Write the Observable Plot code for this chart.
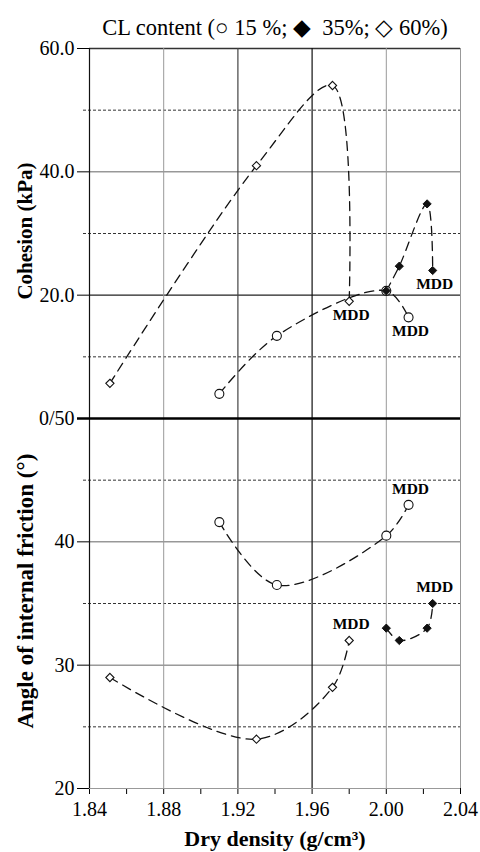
<!DOCTYPE html>
<html><head><meta charset="utf-8">
<script src="https://cdn.jsdelivr.net/npm/d3@7"></script>
<script src="https://cdn.jsdelivr.net/npm/@observablehq/plot@0.6"></script>
<style>body{margin:0;background:#fff}</style>
</head><body><div id="chart"></div>
<script>
// ---- data ----
const titleText = "CL content (\u25CB 15 %; \u25C6  35%; \u25C7 60%)";
const xLabel = "Dry density (g/cm\u00B3)";
const cohesionLabel = "Cohesion (kPa)";
const frictionLabel = "Angle of internal friction (\u00B0)";
const mddText = "MDD";

const density15 = [1.910, 1.941, 2.000, 2.012];
const cohesion15 = [4.0, 13.4, 20.7, 16.4];
const friction15 = [41.6, 36.5, 40.5, 43.0];

const density35 = [2.000, 2.007, 2.022, 2.025];
const cohesion35 = [20.7, 24.7, 34.8, 24.0];
const friction35 = [33.0, 32.0, 33.0, 35.0];

const density60 = [1.851, 1.930, 1.971, 1.980];
const cohesion60 = [5.7, 41.0, 54.0, 19.0];
const friction60 = [29.0, 24.0, 28.2, 32.0];

const xTicks = [1.84, 1.86, 1.88, 1.90, 1.92, 1.94, 1.96, 1.98, 2.00, 2.02, 2.04];
const xTickLabels = ["1.84", "", "1.88", "", "1.92", "", "1.96", "", "2.00", "", "2.04"];
const cohesionTicks = [0, 20, 40, 60];
const cohesionTickLabels = ["0/50", "20.0", "40.0", "60.0"];
const frictionTicks = [20, 30, 40];
const frictionTickLabels = ["20", "30", "40"];
const cohesionDashed = [10, 30, 50];
const frictionDashed = [25, 35, 45];

// ---- composite vertical axis: bottom panel friction 20..50, top panel cohesion 0..60 -> 50..80 ----
const yTop = c => 50 + c / 2;

const series = [
  {name: "15%", d: density15, c: cohesion15, f: friction15},
  {name: "35%", d: density35, c: cohesion35, f: friction35},
  {name: "60%", d: density60, c: cohesion60, f: friction60}
];
const rows = [];
for (const s of series) {
  s.d.forEach((d, i) => {
    rows.push({series: s.name, panel: "top", density: d, y: yTop(s.c[i]), last: i === s.d.length - 1});
    rows.push({series: s.name, panel: "bottom", density: d, y: s.f[i], last: i === s.d.length - 1});
  });
}

const yTicks = [...frictionTicks, ...cohesionTicks.map(yTop)];
const yTickLabels = [...frictionTickLabels, ...cohesionTickLabels];
const yFormat = v => yTickLabels[yTicks.indexOf(v)] ?? "";
const xFormat = v => xTickLabels[xTicks.findIndex(t => Math.abs(t - v) < 1e-9)] ?? "";

const lineStyle = {x: "density", y: "y", z: d => d.series + d.panel, curve: "catmull-rom",
  stroke: "#111", strokeWidth: 1.3, strokeDasharray: "9,6"};

const chart = Plot.plot({
  width: 480, height: 852,
  marginLeft: 89, marginRight: 20, marginTop: 48, marginBottom: 64,
  style: {fontFamily: "'Liberation Serif', 'Times New Roman', serif", fontSize: "20px", background: "white", color: "black"},
  x: {domain: [1.84, 2.04], ticks: xTicks, tickFormat: xFormat, tickSize: 6, tickPadding: 7, label: null},
  y: {domain: [20, 80], ticks: yTicks, tickFormat: yFormat, tickSize: 12, tickPadding: 3, label: null},
  marks: [
    // dashed intermediate grid
    Plot.ruleY([...frictionDashed, ...cohesionDashed.map(yTop)], {stroke: "#333", strokeWidth: 1, strokeDasharray: "3,2", insetLeft: -6}),
    // solid grid
    Plot.ruleY([frictionTicks[0]], {stroke: "#999", strokeWidth: 1}),
    Plot.ruleY(frictionTicks.slice(1), {stroke: "#666", strokeWidth: 1}),
    Plot.ruleY([yTop(cohesionTicks[1])], {stroke: "#222", strokeWidth: 1.2}),
    Plot.ruleY([yTop(cohesionTicks[2])], {stroke: "#666", strokeWidth: 1}),
    Plot.ruleY([yTop(cohesionTicks[3])], {stroke: "#333", strokeWidth: 1.3}),
    Plot.ruleX([xTicks[2], xTicks[8], xTicks[10]], {stroke: "#999", strokeWidth: 1}),
    Plot.ruleX([xTicks[4]], {stroke: "#444", strokeWidth: 1.2}),
    Plot.ruleX([xTicks[0], xTicks[6]], {stroke: "#111", strokeWidth: 1.2}),
    // panel divider
    Plot.ruleY([yTop(cohesionTicks[0])], {stroke: "#000", strokeWidth: 2.6, insetLeft: -12}),
    // curves
    Plot.line(rows, lineStyle),
    // markers
    Plot.dot(rows.filter(d => d.series === "15%"), {x: "density", y: "y", symbol: "circle", r: 4.5, fill: "white", stroke: "#111", strokeWidth: 1.1}),
    Plot.dot(rows.filter(d => d.series === "60%"), {x: "density", y: "y", symbol: "diamond2", r: 3.7, fill: "white", stroke: "#111", strokeWidth: 1.1}),
    Plot.dot(rows.filter(d => d.series === "35%"), {x: "density", y: "y", symbol: "diamond2", r: 3.7, fill: "#111", stroke: "#111", strokeWidth: 1}),
    // MDD labels
    Plot.text(rows.filter(d => d.last && d.panel === "top"), {x: "density", y: "y", text: () => mddText, dy: 14, dx: 2, fontWeight: "bold", fontSize: 15.5}),
    Plot.text(rows.filter(d => d.last && d.panel === "bottom"), {x: "density", y: "y", text: () => mddText, dy: -16, dx: 2, fontWeight: "bold", fontSize: 15.5}),
    // titles
    Plot.text([titleText], {frameAnchor: "top", dy: -29, fontSize: 22.5}),
    Plot.text([xLabel], {frameAnchor: "bottom", dy: 57, fontSize: 22, fontWeight: "bold"}),
    Plot.text([{t: cohesionLabel, y: yTop(30.4)}], {text: "t", y: "y", frameAnchor: "left", textAnchor: "middle", dx: -64, rotate: -90, fontSize: 21, fontWeight: "bold"}),
    Plot.text([{t: frictionLabel, y: 36}], {text: "t", y: "y", frameAnchor: "left", textAnchor: "middle", dx: -64, rotate: -90, fontSize: 23, fontWeight: "bold"})
  ]
});
document.getElementById("chart").appendChild(chart);
</script>
</body></html>
